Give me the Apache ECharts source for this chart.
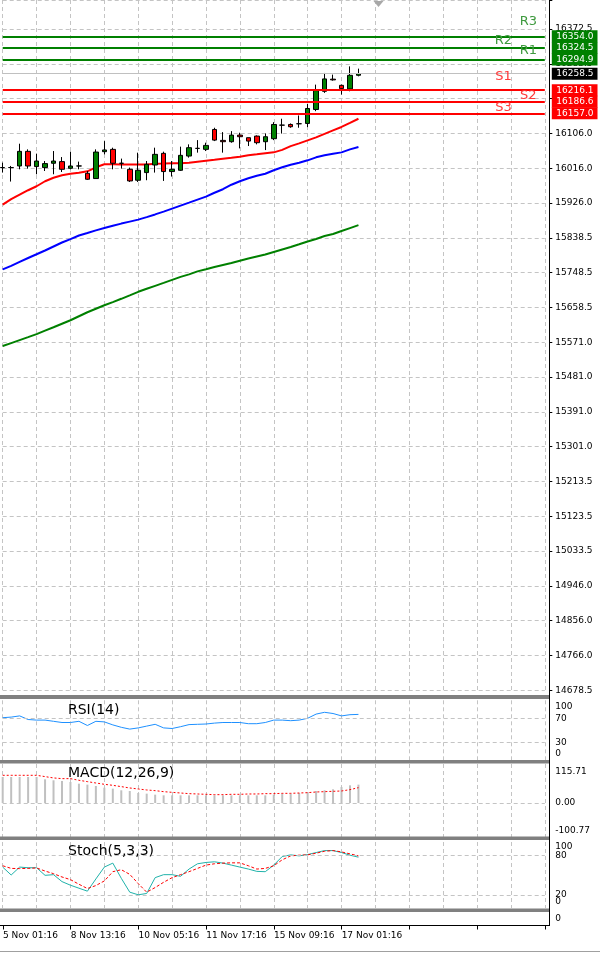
<!DOCTYPE html>
<html><head><meta charset="utf-8">
<script src="https://cdn.jsdelivr.net/npm/echarts@6/dist/echarts.min.js"></script>
<style>html,body{margin:0;padding:0;background:#fff}#c{width:600px;height:955px}</style>
</head><body><div id="c"></div>
<script>
const dateLabels = ['5 Nov 01:16','8 Nov 13:16','10 Nov 05:16','11 Nov 17:16','15 Nov 09:16','17 Nov 01:16'];
const opens  = [16017.5,16018.0,16021.9,16059.4,16020.4,16017.8,16028.8,16033.1,16016.0,16021.9,16003.2,15989.7,16058.6,16064.5,16028.8,16013.4,15985.4,16005.0,16024.4,16054.3,16007.6,16010.9,16047.4,16067.0,16064.5,16115.5,16087.5,16084.1,16101.0,16094.4,16098.5,16084.1,16091.8,16126.5,16128.3,16130.1,16130.9,16166.6,16213.3,16244.4,16228.6,16219.4,16254.3];
const closes = [16018.0,16017.8,16059.4,16021.9,16034.6,16028.0,16034.6,16013.4,16021.9,16022.0,15987.9,16057.6,16063.0,16028.8,16028.9,15983.6,16010.9,16026.2,16051.7,16007.6,16013.4,16049.2,16068.8,16067.1,16074.7,16088.2,16084.1,16101.0,16096.9,16085.7,16081.6,16096.9,16128.3,16126.6,16122.4,16130.2,16169.2,16215.1,16245.0,16242.5,16220.2,16254.2,16258.5];
const lows   = [16005.0,15982.0,16013.4,16015.2,16000.7,16009.1,16000.7,16006.5,16013.4,16013.4,15986.1,15989.7,16051.7,16013.4,16015.2,15981.0,15981.0,15985.4,16005.0,15983.6,15994.8,16009.1,16043.3,16056.1,16060.2,16085.7,16056.1,16081.6,16067.0,16073.0,16077.3,16062.7,16088.2,16105.0,16119.9,16119.9,16121.4,16162.3,16209.2,16240.6,16204.9,16213.3,16251.6];
const highs  = [16030.5,16022.0,16079.0,16064.5,16053.5,16034.6,16060.2,16044.8,16058.6,16033.1,16009.0,16064.5,16085.7,16068.8,16040.8,16017.8,16056.0,16034.6,16068.8,16058.6,16034.6,16071.4,16077.3,16088.2,16081.6,16119.9,16108.7,16111.2,16107.1,16094.4,16100.3,16105.3,16134.2,16143.0,16130.9,16151.3,16181.2,16230.4,16260.3,16256.0,16230.4,16277.1,16271.3];
const maFast = [15922.8,15936.9,15948.4,15959.8,15970.0,15982.8,15991.7,15998.0,16001.9,16004.5,16008.3,16018.5,16026.2,16026.2,16026.0,16026.0,16026.0,16026.0,16027.5,16028.0,16028.8,16028.8,16030.0,16032.6,16035.2,16037.7,16040.3,16042.8,16045.4,16049.2,16051.7,16054.3,16056.8,16063.2,16072.9,16079.8,16087.5,16095.1,16104.0,16113.0,16121.9,16132.2,16142.9];
const maMid  = [15756.9,15765.8,15776.0,15786.2,15795.7,15805.4,15815.6,15825.8,15834.7,15843.7,15850.1,15856.9,15862.8,15868.7,15874.3,15879.4,15884.5,15890.9,15897.8,15904.9,15912.6,15920.3,15927.9,15935.6,15943.3,15953.4,15962.4,15973.9,15982.8,15990.5,15996.9,16001.9,16010.9,16018.5,16024.9,16030.0,16036.4,16044.1,16049.2,16053.0,16056.8,16064.5,16070.4];
const maSlow = [15560.6,15568.0,15575.7,15583.3,15591.0,15599.9,15608.8,15617.8,15626.7,15636.9,15647.2,15656.1,15665.0,15673.2,15681.6,15690.5,15699.5,15707.2,15714.8,15722.4,15730.1,15737.7,15744.1,15751.8,15757.4,15763.3,15768.4,15773.5,15779.3,15785.0,15790.1,15795.2,15801.6,15808.0,15814.3,15821.2,15828.4,15834.7,15842.4,15847.5,15855.2,15862.8,15870.5];
const rsi = [71,72,74,68,67,67,65,63,63,65,58,65,64,59,55,52,54,57,60,54,53,56,59.5,60,60.5,62,63,63,63,61,61,63,67,67,66,67,70,77,80,78,74,76,76.5];
const macdHist = [77.2,77.2,77.2,77.2,77.2,70.3,67.4,65.4,62.4,57.4,54.5,50.5,45.6,42.6,37.7,35.7,29.7,27.8,24.8,22.8,22.8,22.8,22.8,22.8,22.8,22.8,22.8,22.8,22.8,22.8,22.8,22.8,24.8,27.8,27.8,29.7,32.7,35.7,37.7,40.7,47.6,52.5,54.5];
const macdSignal = [82.2,82.2,82.2,82.2,82.2,78.3,74.4,72.3,72.3,67.4,63.4,59.4,55.5,52.5,48.6,44.6,41.6,38.7,36.7,33.7,31.7,29.7,27.8,26.8,25.8,24.8,24.8,25.8,25.8,26.8,26.8,27.8,27.8,28.7,28.7,29.7,30.7,32.7,33.7,34.7,35.7,39.6,45.6];
const stochK = [62,50,62,61,61,49.5,50.5,40,34.5,30,25.5,44,62,68,45,24,20,22,46,50.5,50.5,48,59,67,69,70,68,65,62,59,55.5,55,65,78,80.5,79,81,84,87,87,84,80,77];
const stochD = [64,60,59.7,60,60.7,56,52,47,43,36,29.5,34,41,55,58,51,37,24,31,39,46,50.5,55,60,65,67,68,68.4,68.4,64,59,60,64,73,79,80,80.5,83,86,87,85,82,79];
const levelNames  = ['R3','R2','R1','S1','S2','S3'];
const levelValues = [16354.0,16324.5,16294.9,16216.1,16186.6,16157.0];
const lastPrice = 16258.5;
const priceTickLabels = ['14678.5','14766.0','14856.0','14946.0','15033.5','15123.5','15213.5','15301.0','15391.0','15481.0','15571.0','15658.5','15748.5','15838.5','15926.0','16016.0','16106.0','16193.5','16283.5','16372.5'];
const rsiLevels = [70, 30];
const stochLevels = [80, 20];
const macdTickLabels = {'-100.77':'-100.77','0':'0.00','115.71':'115.71'};

const SLOTS = 65;
const categories = Array.from({length: SLOTS}, (_, i) => String(i));
const FONT = 'DejaVu Sans';
const PRICE_MIN = 14678.5, PRICE_STEP = 1337.5 / 15, PRICE_MAX = 16447.2;
const gridLine = {color: '#c4c4c4', type: [4, 3], width: 1};
const grids = [
  {top: 0, height: 690.3},
  {top: 700.3, height: 60},
  {top: 764, height: 73},
  {top: 842, height: 66},
  {top: 912, height: 13.5}
].map(g => Object.assign({left: 2.7, width: 542.1}, g));

const xAxes = grids.map((g, gi) => ({
  type: 'category', gridIndex: gi, data: categories, boundaryGap: false,
  axisLine: {show: false},
  axisTick: {show: gi === 4, interval: 7, length: 4, lineStyle: {color: '#000'}},
  axisLabel: {show: gi === 4, interval: 7, align: 'left', margin: 6, fontSize: 9, fontFamily: FONT, color: '#000',
    formatter: (v, i) => (i % 8 === 0 ? (dateLabels[i / 8] || '') : '')},
  splitLine: {show: gi < 4, interval: 3, lineStyle: gridLine}
}));

const subLabel = {margin: 6, fontSize: 9, fontFamily: FONT, color: '#000', showMaxLabel: true, showMinLabel: true, hideOverlap: false,
  rich: {t: {fontSize: 9, fontFamily: FONT, color: '#000', padding: [12, 0, 0, 0]},
         t2: {fontSize: 9, fontFamily: FONT, color: '#000', padding: [15, 0, 0, 0]},
         b: {fontSize: 9, fontFamily: FONT, color: '#000', padding: [0, 0, 13, 0]},
         s: {fontSize: 9, fontFamily: FONT, color: '#000', padding: [9, 0, 0, 0]}}};
const subAxis = (gi, min, max, interval, fmt) => ({type: 'value', gridIndex: gi, position: 'right', offset: 4.5, min, max, interval,
  axisLine: {show: false}, axisTick: {show: false}, splitLine: {show: false},
  axisLabel: Object.assign({}, subLabel, {formatter: fmt})});

const yAxes = [
  {type: 'value', gridIndex: 0, position: 'right', offset: 4.5, min: PRICE_MIN, max: PRICE_MAX, interval: PRICE_STEP,
   axisLine: {show: false}, axisTick: {show: true, length: 3, lineStyle: {color: '#000'}},
   axisLabel: {margin: 6, fontSize: 9, fontFamily: FONT, color: '#000', formatter: v => {
     const k = Math.round((v - PRICE_MIN) / PRICE_STEP);
     if (Math.abs(v - (PRICE_MIN + k * PRICE_STEP)) > 0.01) return '';
     return priceTickLabels[k] || '';
   }},
   splitLine: {show: true, lineStyle: gridLine}},
  subAxis(1, 0, 100, 10, v => v === 100 ? '{t|100}' : v === 0 ? '{b|0}' : (v === 70 || v === 30) ? String(v) : ''),
  subAxis(2, -100.77, 115.71, 100.77, v => {
     if (Math.abs(v - 115.71) < 0.01) return '{t2|' + macdTickLabels['115.71'] + '}';
     if (Math.abs(v) < 0.01) return macdTickLabels['0'];
     if (Math.abs(v + 100.77) < 0.01) return '{b|' + macdTickLabels['-100.77'] + '}';
     return '';
  }),
  subAxis(3, 0, 100, 20, v => (v === 80 || v === 20) ? String(v) : ''),
  subAxis(4, 0, 1, 0.5, v => v === 0.5 ? '0' : ''),
  subAxis(3, 0, 100, 100, v => v === 100 ? '{s|100}' : v === 0 ? '{b|0}' : '')
];

const candleData = opens.map((o, i) => [o, closes[i], lows[i], highs[i]]);
const levelColor = n => n[0] === 'R' ? '#008000' : '#ff0000';
const levelTextColor = n => n[0] === 'R' ? '#3f9a3f' : '#ff3a3a';
const nameSpots = {R3: [62, 0.5, -14.8], R2: [59, 1, -7.3], R1: [62, 0.5, -9.3], S1: [59, 1, -13.1], S2: [62, 0.5, -6.4], S3: [59, 1, -5.9]};
const boxLabel = (bg) => ({show: true, position: 'end', distance: 7, formatter: p => p.value.toFixed(1),
  backgroundColor: bg, color: '#fff', fontSize: 9, fontFamily: FONT, lineHeight: 10, padding: [1, 4, 1, 4.5]});

const levelLines = levelNames.map((n, i) => ({
  yAxis: levelValues[i], lineStyle: {color: levelColor(n), width: 2, type: 'solid'},
  label: boxLabel(levelColor(n))
}));
levelLines.push({yAxis: lastPrice, lineStyle: {color: '#c0c0c0', width: 1, type: 'solid'}, label: boxLabel('#000')});

const levelNamePoints = levelNames.map((n, i) => ({
  name: n, coord: [nameSpots[n][0], levelValues[i]],
  label: {show: true, position: 'inside', formatter: '{b}', color: levelTextColor(n), fontSize: 13, fontFamily: FONT,
          offset: [nameSpots[n][1], nameSpots[n][2]]}
}));

const levelMark = (vals) => ({silent: true, symbol: ['none', 'none'], animation: false,
  lineStyle: gridLine, label: {show: false}, data: vals.map(v => ({yAxis: v}))});

const titleStyle = {fontSize: 14, fontFamily: FONT, fontWeight: 'normal', color: '#000', lineHeight: 16};

const option = {
  animation: false,
  backgroundColor: '#fff',
  grid: grids,
  xAxis: xAxes,
  yAxis: yAxes,
  title: [
    {text: 'RSI(14)', left: 68, top: 702.5, padding: 0, textStyle: titleStyle},
    {text: 'MACD(12,26,9)', left: 68, top: 765, padding: 0, textStyle: titleStyle},
    {text: 'Stoch(5,3,3)', left: 68, top: 843.5, padding: 0, textStyle: titleStyle}
  ],
  series: [
    {type: 'line', xAxisIndex: 0, yAxisIndex: 0, data: maSlow, symbol: 'none', lineStyle: {color: '#008000', width: 2}, z: 3},
    {type: 'line', xAxisIndex: 0, yAxisIndex: 0, data: maMid, symbol: 'none', lineStyle: {color: '#0000ff', width: 2}, z: 3},
    {type: 'line', xAxisIndex: 0, yAxisIndex: 0, data: maFast, symbol: 'none', lineStyle: {color: '#ff0000', width: 2}, z: 3},
    {type: 'candlestick', xAxisIndex: 0, yAxisIndex: 0, data: candleData, barWidth: 5, clip: false, z: 4,
     itemStyle: {color: '#008000', color0: '#ff0000', borderColor: '#000', borderColor0: '#000', borderWidth: 1},
     markLine: {silent: true, symbol: ['none', 'none'], data: levelLines},
     markPoint: {silent: true, symbol: 'circle', symbolSize: 1, itemStyle: {color: 'rgba(0,0,0,0)'}, data: levelNamePoints}},
    {type: 'line', xAxisIndex: 1, yAxisIndex: 1, data: rsi, symbol: 'none', lineStyle: {color: '#1e90ff', width: 1}, markLine: levelMark(rsiLevels)},
    {type: 'bar', xAxisIndex: 2, yAxisIndex: 2, data: macdHist, barWidth: 2, itemStyle: {color: '#c0c0c0'}, markLine: levelMark([0])},
    {type: 'line', xAxisIndex: 2, yAxisIndex: 2, data: macdSignal, symbol: 'none', lineStyle: {color: '#ff0000', width: 1, type: [2, 2]}},
    {type: 'line', xAxisIndex: 3, yAxisIndex: 3, data: stochK, symbol: 'none', lineStyle: {color: '#20b2aa', width: 1}, markLine: levelMark(stochLevels)},
    {type: 'line', xAxisIndex: 3, yAxisIndex: 3, data: stochD, symbol: 'none', lineStyle: {color: '#ff0000', width: 1, type: [3, 2]}}
  ],
  graphic: [
    {type: 'rect', shape: {x: 0, y: 695, width: 549, height: 4}, style: {fill: '#808080'}, z: 100},
    {type: 'rect', shape: {x: 0, y: 760, width: 549, height: 3.5}, style: {fill: '#808080'}, z: 100},
    {type: 'rect', shape: {x: 0, y: 836.5, width: 549, height: 3.5}, style: {fill: '#808080'}, z: 100},
    {type: 'rect', shape: {x: 0, y: 908.5, width: 549, height: 3.5}, style: {fill: '#808080'}, z: 100},
    {type: 'line', shape: {x1: 0, y1: 925.5, x2: 549, y2: 925.5}, style: {stroke: '#000', lineWidth: 1}, z: 100},
    {type: 'line', shape: {x1: 549.5, y1: 0, x2: 549.5, y2: 926}, style: {stroke: '#000', lineWidth: 1}, z: 100},
    {type: 'line', shape: {x1: 0, y1: 951.5, x2: 600, y2: 951.5}, style: {stroke: '#a0a0a0', lineWidth: 1}, z: 100},
    {type: 'polygon', shape: {points: [[373.5, 1], [383.5, 1], [378.5, 7]]}, style: {fill: '#a8a8a8'}, z: 100}
  ]
};
const chart = echarts.init(document.getElementById('c'), null, {renderer: 'canvas'});
chart.setOption(option);
</script></body></html>
